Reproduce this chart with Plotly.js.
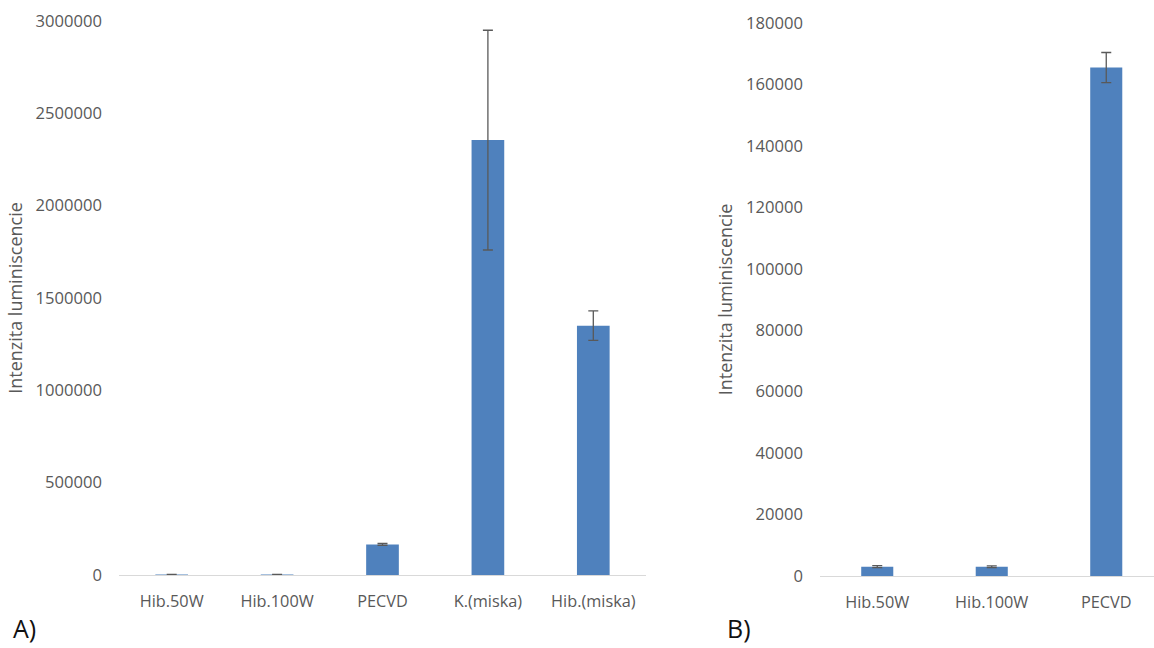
<!DOCTYPE html>
<html>
<head>
<meta charset="utf-8">
<script src="https://cdn.plot.ly/plotly-3.0.1.min.js"></script>
<style>html,body{margin:0;padding:0;background:#fff}#chart{width:1154px;height:648px}</style>
</head>
<body>
<div id="chart"></div>
<script>
// Panel A
const categoriesA = ['Hib.50W', 'Hib.100W', 'PECVD', 'K.(miska)', 'Hib.(miska)'];
const valuesA = [3000, 3000, 165500, 2355000, 1350000];
const errorsA = [400, 400, 5000, 595000, 80000];
const ticksA = [0, 500000, 1000000, 1500000, 2000000, 2500000, 3000000];
// Panel B
const categoriesB = ['Hib.50W', 'Hib.100W', 'PECVD'];
const valuesB = [3050, 3000, 165500];
const errorsB = [300, 300, 4900];
const ticksB = [0, 20000, 40000, 60000, 80000, 100000, 120000, 140000, 160000, 180000];

const yTitle = 'Intenzita luminiscencie';
const barColor = '#4F81BD';
const grey = '#595959';
const fontFam = '"Open Sans", "DejaVu Sans", sans-serif';

const traces = [
  {
    type: 'bar', x: categoriesA, y: valuesA, xaxis: 'x', yaxis: 'y',
    marker: {color: barColor}, width: 0.31,
    error_y: {type: 'data', array: errorsA, visible: true, color: grey, thickness: 1.3, width: 5},
    showlegend: false, hoverinfo: 'x+y'
  },
  {
    type: 'bar', x: categoriesB, y: valuesB, xaxis: 'x2', yaxis: 'y2',
    marker: {color: barColor}, width: 0.28,
    error_y: {type: 'data', array: errorsB, visible: true, color: grey, thickness: 1.3, width: 5},
    showlegend: false, hoverinfo: 'x+y'
  }
];

const W = 1154, H = 648;
const xFont = {family: fontFam, size: 16.3, color: grey};
const yFont = {family: fontFam, size: 16.6, color: grey};
const tFont = {family: fontFam, size: 18, color: grey};

const layout = {
  width: W, height: H,
  margin: {l: 0, r: 0, t: 0, b: 0},
  paper_bgcolor: '#fff', plot_bgcolor: '#fff',
  font: {family: fontFam, color: grey},
  showlegend: false,
  xaxis: {
    domain: [119 / W, 646 / W], anchor: 'y',
    range: [-0.5, 4.5], type: 'category',
    showline: true, linecolor: '#d9d9d9', linewidth: 1.3,
    showgrid: false, zeroline: false, ticks: '',
    tickfont: xFont, ticklabelstandoff: 11, fixedrange: true
  },
  yaxis: {
    domain: [(H - 575) / H, (H - 21) / H], anchor: 'x',
    range: [0, 3000000], tickvals: ticksA, ticktext: ticksA.map(String),
    showgrid: false, zeroline: false, showline: false, ticks: '',
    tickfont: yFont, ticklabelstandoff: 16,
    title: {text: yTitle, font: tFont, standoff: 8},
    fixedrange: true
  },
  xaxis2: {
    domain: [820 / W, 1], anchor: 'y2',
    range: [-0.5, 2.417], type: 'category',
    showline: true, linecolor: '#d9d9d9', linewidth: 1.3,
    showgrid: false, zeroline: false, ticks: '',
    tickfont: xFont, ticklabelstandoff: 11, fixedrange: true
  },
  yaxis2: {
    domain: [(H - 576) / H, (H - 23) / H], anchor: 'x2',
    range: [0, 180000], tickvals: ticksB, ticktext: ticksB.map(String),
    showgrid: false, zeroline: false, showline: false, ticks: '',
    tickfont: yFont, ticklabelstandoff: 16,
    title: {text: yTitle, font: tFont, standoff: 8},
    fixedrange: true
  },
  annotations: [
    {text: 'A)', xref: 'paper', yref: 'paper', x: 11 / W, y: (H - 628) / H,
     xanchor: 'left', yanchor: 'middle', showarrow: false,
     font: {family: fontFam, size: 25, color: '#111'}},
    {text: 'B)', xref: 'paper', yref: 'paper', x: 725 / W, y: (H - 628) / H,
     xanchor: 'left', yanchor: 'middle', showarrow: false,
     font: {family: fontFam, size: 25, color: '#111'}}
  ]
};

Plotly.newPlot('chart', traces, layout, {displayModeBar: false, staticPlot: true});
</script>
</body>
</html>
